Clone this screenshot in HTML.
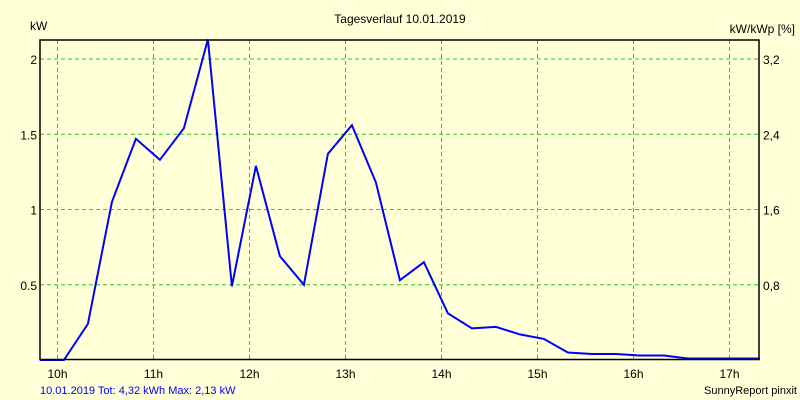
<!DOCTYPE html>
<html><head><meta charset="utf-8"><style>
body{margin:0;background:#ffffd8;}
svg{display:block;font-family:"Liberation Sans",sans-serif;font-size:12px;}
</style></head><body>
<svg id="chart" width="800" height="400">
<rect x="0" y="0" width="800" height="400" fill="#ffffd8"/>
<text x="400" y="23" text-anchor="middle">Tagesverlauf 10.01.2019</text>
<text x="30" y="30">kW</text>
<text x="795" y="33" text-anchor="end">kW/kWp [%]</text>
<g id="grid"></g>
<g id="axes"></g>
<polyline id="series" fill="none" stroke="#0000ff" stroke-width="2" stroke-linejoin="miter"/>
<rect x="40" y="40" width="719" height="319.5" fill="none" stroke="#000" stroke-width="1.5"/>
<text x="40" y="394" fill="#0000ff" font-size="11">10.01.2019 Tot: 4,32 kWh Max: 2,13 kW</text>
<text x="797" y="394" text-anchor="end" font-size="11">SunnyReport pinxit</text>
</svg>
<script>
const startHour = 9.8167;
const stepHour = 0.25;
const powerKW = [0,0,0.24,1.05,1.47,1.33,1.54,2.13,0.49,1.29,0.69,0.50,1.37,1.56,1.18,0.53,0.65,0.31,0.21,0.22,0.17,0.14,0.05,0.04,0.04,0.03,0.03,0.01,0.01,0.01,0.01];
const hourTicks = [10,11,12,13,14,15,16,17];
const hourLabels = ["10h","11h","12h","13h","14h","15h","16h","17h"];
const leftTicks = [0.5,1,1.5,2];
const leftLabels = ["0.5","1","1.5","2"];
const rightLabels = ["0,8","1,6","2,4","3,2"];

const NS="http://www.w3.org/2000/svg";
function xScale(h){return 57.5+(h-10)*96;}
function yScale(v){return 360-v*150.5;}
const grid=document.getElementById('grid'), axes=document.getElementById('axes');
function mk(tag,attrs,parent){const e=document.createElementNS(NS,tag);for(const k in attrs)e.setAttribute(k,attrs[k]);parent.appendChild(e);return e;}
hourTicks.forEach((h,i)=>{
  const x=xScale(h);
  const l=mk('line',{x1:x,x2:x,y1:40,y2:359,stroke:'#22cc22','stroke-dasharray':'4,3'},grid);
  
  
  const t=mk('text',{x:x,y:378,'text-anchor':'middle'},axes);
  t.textContent=hourLabels[i];
  
  
});
leftTicks.forEach((v,i)=>{
  const y=yScale(v);
  const l=mk('line',{x1:40,x2:759,y1:y,y2:y,stroke:v===1?'#00ee00':'#22cc22','stroke-dasharray':'4,3'},grid);
  
  
  const t=mk('text',{x:37,y:y+5,'text-anchor':'end'},axes);
  t.textContent=leftLabels[i];
  
  
  const r=mk('text',{x:763,y:y+5},axes);
  r.textContent=rightLabels[i];
  
  
});
document.getElementById('series').setAttribute('points',powerKW.map((v,i)=>xScale(startHour+i*stepHour).toFixed(1)+','+yScale(v).toFixed(1)).join(' '));
</script>
</body></html>
